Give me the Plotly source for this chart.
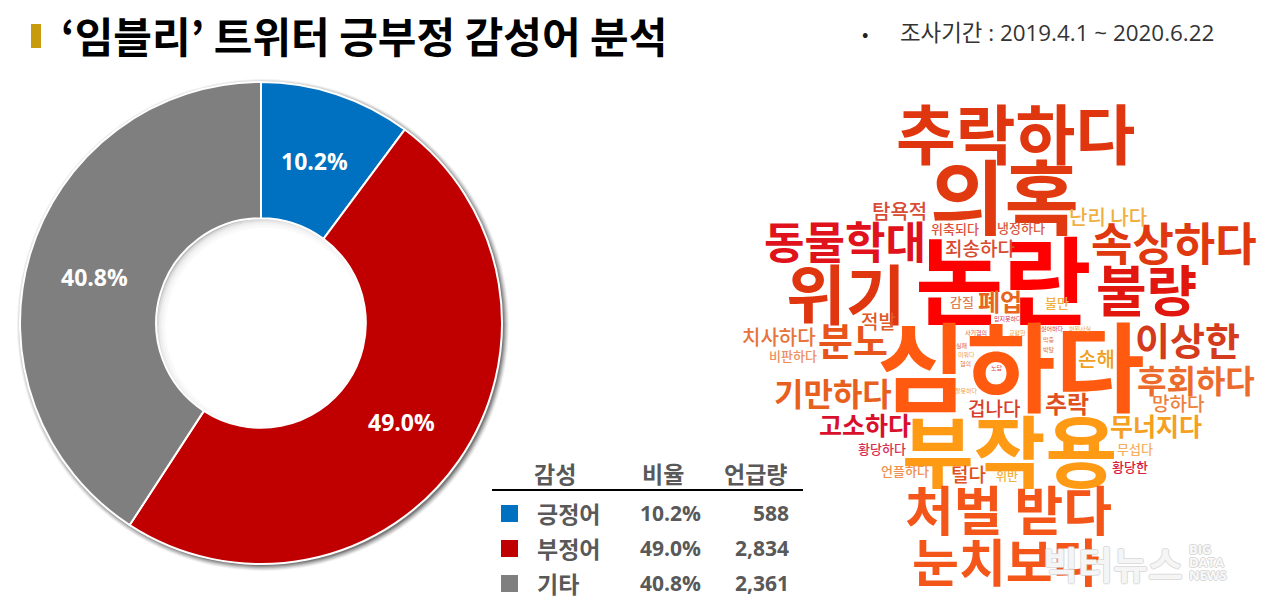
import plotly.graph_objects as go

W, H = 1280, 610
KR = "Noto Sans CJK KR"
LATIN_KR = "Open Sans, Noto Sans CJK KR"

# ---- data ----
SENTIMENTS = ["긍정어", "부정어", "기타"]
MENTIONS = [588, 2834, 2361]
PERCENTS = ["10.2%", "49.0%", "40.8%"]
TABLE_HEADERS = ["감성", "비율", "언급량"]
TITLE = "‘임블리’ 트위터 긍부정 감성어 분석"
PERIOD = "조사기간 : 2019.4.1 ~ 2020.6.22"

WORDS = ["논란", "심하다", "의혹", "추락하다", "부작용", "위기", "처벌 받다", "눈치보다",
         "동물학대", "속상하다", "불량", "이상한", "분노", "기만하다", "후회하다", "고소하다",
         "무너지다", "폐업", "추락", "탐욕적", "난리 나다", "죄송하다", "치사하다", "적발",
         "손해", "겁나다", "망하다", "털다", "위축되다", "냉정하다", "감질", "불만", "비판하다",
         "황당하다", "무섭다", "언플하다", "위반", "황당한", "믿지못하다", "사기혐의", "교활한",
         "싫어하다", "허위사실", "막중", "박탈", "실패", "미워다", "혐의", "노답", "잘못하다"]

# ---- styles and placement ----
PIE_COLORS = ["#0070C0", "#C00000", "#7F7F7F"]
TEXT_GREY = "#595959"
PIE_LABEL_POS = [(314, 161), (401, 422), (94, 277)]

# center x px, center y px, font px, colour -- same order as WORDS
WORD_STYLE = [
    (1003, 276, 96, "#FF0000"), (1011, 362, 97, "#FF5A0F"), (1004, 192, 81, "#E23A10"),
    (1015, 131, 65, "#E0360F"), (1009, 448, 78, "#FF9A14"), (846, 291, 65, "#E0360F"),
    (1008, 508, 53, "#F4561A"), (1006, 560, 51, "#F4561A"), (845, 240, 44, "#E0121C"),
    (1174, 242, 45, "#E0380F"), (1146, 287, 55, "#E0160F"), (1187, 338, 38, "#D43A1C"),
    (853, 338, 38, "#E8551A"), (833, 392, 32, "#E8601E"), (1196, 379, 32, "#EC6A2C"),
    (865, 424, 25, "#D8102C"), (1156, 425, 25, "#F5A020"), (1000, 300, 24, "#E8651E"),
    (1067, 402, 24, "#E05020"), (899, 211, 20, "#D84B35"), (1108, 216, 20, "#EFB040"),
    (980, 247, 19, "#D84B30"), (779, 336, 20, "#E8743A"), (878, 320, 19, "#E05A28"),
    (1096, 358, 20, "#F0A020"), (994, 407, 19, "#D8402C"), (1178, 402, 19, "#EE8040"),
    (968, 473, 19, "#E05020"), (955, 228, 13, "#E0503A"), (1021, 227, 13, "#D85A40"),
    (962, 301, 13, "#E0805A"), (1057, 302, 13, "#EFB040"), (793, 355, 13, "#EE9060"),
    (882, 448, 13, "#D83050"), (1135, 448, 13, "#F5B060"), (905, 471, 13, "#F09050"),
    (1007, 475, 12, "#F0B040"), (1130, 466, 13, "#D8203C"), (1008, 318, 6, "#D8304A"),
    (976, 332, 6, "#D8503C"), (1017, 332, 6, "#F0A040"), (1052, 328, 6, "#D84040"),
    (1080, 328, 6, "#F0A040"), (1049, 340, 6, "#E07050"), (1049, 349, 6, "#E07050"),
    (961, 345, 6, "#E06040"), (966, 354, 6, "#F0A040"), (965, 363, 6, "#E08040"),
    (997, 367, 6, "#D84040"), (966, 390, 6, "#F0A040"),
]

OUTLINE = "1px 0 0 #d4d4d4, -1px 0 0 #d4d4d4, 0 1px 0 #d4d4d4, 0 -1px 0 #d4d4d4"


def px(x):
    return x / W


def py(y):
    return 1 - y / H


def label(x, y, text, size, color, anchor="center", weight=400, shadow=None, family=KR):
    return dict(
        x=px(x), y=py(y), xref="paper", yref="paper", text=text, showarrow=False,
        xanchor=anchor, yanchor="middle", align=anchor,
        font=dict(family=family, size=size, color=color, weight=weight,
                  **({"shadow": shadow} if shadow else {})),
    )


def disc(cx, cy, r, fill):
    return dict(type="circle", xref="paper", yref="paper", layer="below",
                x0=px(cx - r), x1=px(cx + r), y0=py(cy + r), y1=py(cy - r),
                fillcolor=fill, line_width=0)


annotations = [
    label(59, 35, TITLE, 42, "#000000", "left", 700),
    label(865, 33, "•", 19, "#222222"),
    label(898, 32, PERIOD, 22.4, "#333333", "left", family=LATIN_KR),
]
header_x = [555, 663, 755]
for hx, head in zip(header_x, TABLE_HEADERS):
    annotations.append(label(hx, 473, head, 23, TEXT_GREY, weight=700))

row_y = [513, 548, 583]
shapes = [
    dict(type="rect", x0=px(31), x1=px(41), y0=py(48), y1=py(24), xref="paper", yref="paper",
         fillcolor="#C89B0C", line_width=0),
    dict(type="line", x0=px(492), x1=px(803), y0=py(490), y1=py(490), xref="paper", yref="paper",
         line=dict(color="#000000", width=2)),
]
# soft drop shadow behind the doughnut
for grow, alpha in [(6, 0.05), (5, 0.07), (4, 0.09), (3, 0.12), (2, 0.15), (1, 0.18)]:
    shapes.append(disc(263, 325, 240 + grow, f"rgba(0,0,0,{alpha})"))
# inner shadow in the doughnut hole
shapes.append(disc(261, 323, 106, "#FFFFFF"))
shapes.append(disc(261, 323, 106, "#8a8a8a"))
for r in [110, 108, 106, 104, 102, 100]:
    shapes.append(disc(265, 327, r, "rgba(255,255,255,0.45)"))
shapes.append(disc(265, 327, 99, "#FFFFFF"))

for ry, name, pct, count, col in zip(row_y, SENTIMENTS, PERCENTS, MENTIONS, PIE_COLORS):
    shapes.append(dict(type="rect", x0=px(501), x1=px(518), y0=py(ry + 9), y1=py(ry - 8),
                       xref="paper", yref="paper", fillcolor=col, line_width=0))
    annotations.append(label(535, ry, name, 23, TEXT_GREY, "left", 700))
    annotations.append(label(703, ry, pct, 21, TEXT_GREY, "right", 700, family=LATIN_KR))
    annotations.append(label(791, ry, f"{count:,}", 21, TEXT_GREY, "right", 700, family=LATIN_KR))

for pct, (lx, ly) in zip(PERCENTS, PIE_LABEL_POS):
    annotations.append(label(lx, ly, pct, 23, "#FFFFFF", weight=700, family=LATIN_KR))

for word, (wx, wy, size, col) in zip(WORDS, WORD_STYLE):
    annotations.append(label(wx, wy, word, size, col,
                             weight=700 if size >= 22 else (500 if size > 6 else 400)))

# watermark
annotations.append(label(1113, 562, "빅터뉴스", 38, "rgba(255,255,255,0.8)", shadow=OUTLINE, weight=700))
for my, t in zip([549, 562, 575], ["BIG", "DATA", "NEWS"]):
    annotations.append(label(1187, my, t, 13, "rgba(255,255,255,0.9)", "left", 700,
                             shadow=OUTLINE, family="Open Sans"))

fig = go.Figure(go.Pie(
    labels=SENTIMENTS, values=MENTIONS, sort=False, direction="clockwise", rotation=0,
    hole=0.435, marker=dict(colors=PIE_COLORS, line=dict(color="#FFFFFF", width=2)),
    textinfo="none",
    domain=dict(x=[px(20), px(502)], y=[py(564), py(82)]), showlegend=False,
))
fig.update_layout(
    width=W, height=H, margin=dict(l=0, r=0, t=0, b=0), paper_bgcolor="#FFFFFF",
    plot_bgcolor="#FFFFFF", annotations=annotations, shapes=shapes,
)
fig.write_html("out.html", config={"displayModeBar": False},
               post_script="document.body.style.margin='0';document.body.style.overflow='hidden';")
